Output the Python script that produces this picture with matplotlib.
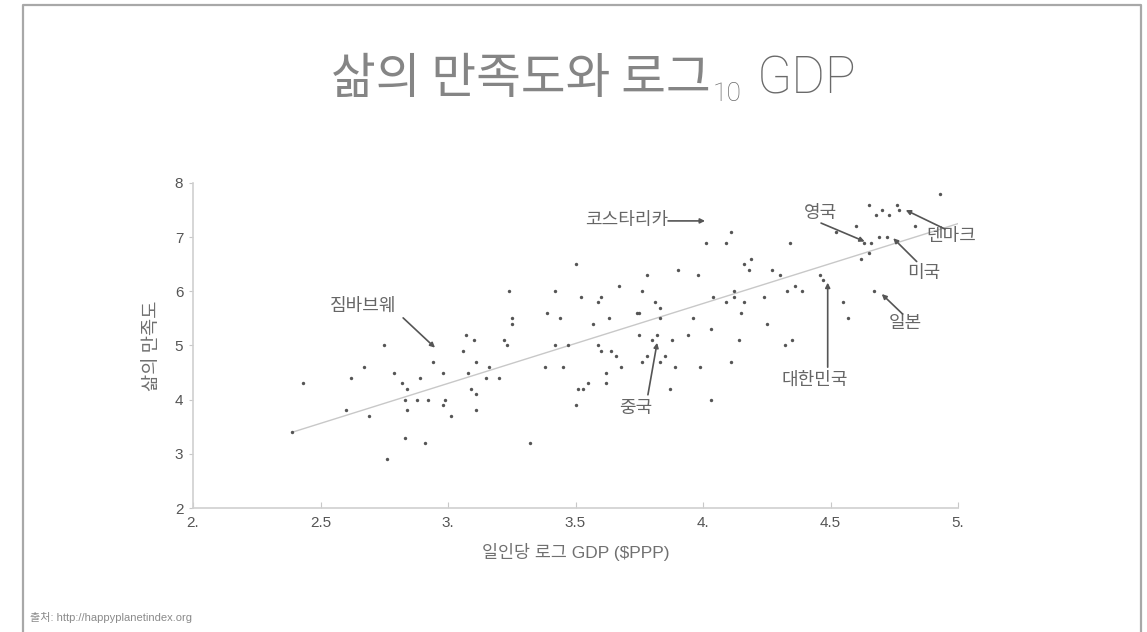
import matplotlib
matplotlib.use("Agg")
import matplotlib.pyplot as plt
from matplotlib.lines import Line2D

# log10 GDP per capita ($PPP) and life satisfaction
gdp_log = [2.39, 2.43, 2.60, 2.62, 2.67, 2.69, 2.75, 2.76, 2.79, 2.82, 2.84, 2.83, 2.83, 2.84,
           2.88, 2.89, 2.91, 2.92, 2.94, 2.98, 2.98, 2.99, 3.01, 3.06, 3.07, 3.08, 3.09, 3.10,
           3.11, 3.11, 3.11, 3.15, 3.16, 3.20, 3.22, 3.23, 3.24, 3.25, 3.25, 3.32, 3.38, 3.39,
           3.42, 3.42, 3.44, 3.45, 3.47, 3.50, 3.50, 3.51, 3.53, 3.52, 3.55, 3.57, 3.59, 3.59,
           3.60, 3.60, 3.62, 3.62, 3.63, 3.64, 3.66, 3.67, 3.68, 3.74, 3.75, 3.75, 3.76, 3.76,
           3.78, 3.78, 3.80, 3.81, 3.82, 3.83, 3.83, 3.83, 3.85, 3.87, 3.88, 3.89, 3.90, 3.94,
           3.96, 3.98, 3.99, 4.01, 4.03, 4.03, 4.04, 4.09, 4.09, 4.11, 4.11, 4.12, 4.12, 4.14,
           4.15, 4.16, 4.16, 4.18, 4.19, 4.24, 4.25, 4.27, 4.30, 4.32, 4.33, 4.34, 4.35, 4.36,
           4.39, 4.46, 4.47, 4.52, 4.55, 4.57, 4.60, 4.62, 4.63, 4.66, 4.65, 4.65, 4.67, 4.68,
           4.69, 4.72, 4.70, 4.73, 4.76, 4.77, 4.83, 4.93]
life_sat = [3.4, 4.3, 3.8, 4.4, 4.6, 3.7, 5.0, 2.9, 4.5, 4.3, 4.2, 3.3, 4.0, 3.8,
            4.0, 4.4, 3.2, 4.0, 4.7, 3.9, 4.5, 4.0, 3.7, 4.9, 5.2, 4.5, 4.2, 5.1,
            4.7, 4.1, 3.8, 4.4, 4.6, 4.4, 5.1, 5.0, 6.0, 5.5, 5.4, 3.2, 4.6, 5.6,
            5.0, 6.0, 5.5, 4.6, 5.0, 6.5, 3.9, 4.2, 4.2, 5.9, 4.3, 5.4, 5.0, 5.8,
            5.9, 4.9, 4.3, 4.5, 5.5, 4.9, 4.8, 6.1, 4.6, 5.6, 5.6, 5.2, 4.7, 6.0,
            6.3, 4.8, 5.1, 5.8, 5.2, 4.7, 5.7, 5.5, 4.8, 4.2, 5.1, 4.6, 6.4, 5.2,
            5.5, 6.3, 4.6, 6.9, 5.3, 4.0, 5.9, 6.9, 5.8, 7.1, 4.7, 6.0, 5.9, 5.1,
            5.6, 5.8, 6.5, 6.4, 6.6, 5.9, 5.4, 6.4, 6.3, 5.0, 6.0, 6.9, 5.1, 6.1,
            6.0, 6.3, 6.2, 7.1, 5.8, 5.5, 7.2, 6.6, 6.9, 6.9, 6.7, 7.6, 6.0, 7.4,
            7.0, 7.0, 7.5, 7.4, 7.6, 7.5, 7.2, 7.8]

# trend line end points
trend_x = [2.39, 5.0]
trend_y = [3.4, 7.25]

x_ticks = [2.0, 2.5, 3.0, 3.5, 4.0, 4.5, 5.0]
x_tick_labels = ["2.", "2.5", "3.", "3.5", "4.", "4.5", "5."]
y_ticks = [2, 3, 4, 5, 6, 7, 8]

# country call-outs: label, text position, arrow start, arrow tip
labels = ["짐바브웨", "코스타리카", "중국", "영국", "덴마크", "미국", "일본", "대한민국"]
label_x = [2.667, 3.70, 3.737, 4.459, 4.973, 4.867, 4.792, 4.439]
label_y = [5.73, 7.31, 3.85, 7.45, 7.02, 6.34, 5.42, 4.37]
arrow_x0 = [2.824, 3.863, 3.784, 4.463, 4.949, 4.838, 4.783, 4.489]
arrow_y0 = [5.51, 7.30, 4.09, 7.26, 7.15, 6.55, 5.58, 4.60]
arrow_x1 = [2.949, 4.008, 3.820, 4.634, 4.795, 4.746, 4.701, 4.489]
arrow_y1 = [4.96, 7.30, 5.05, 6.92, 7.50, 6.98, 5.95, 6.16]

KR = ["Noto Sans CJK KR", "DejaVu Sans"]
MIX = ["Liberation Sans", "Noto Sans CJK KR", "DejaVu Sans"]
LAT = ["Liberation Sans", "DejaVu Sans"]
THIN = ["Roboto", "Liberation Sans", "DejaVu Sans"]
W, H = 1147, 632

fig = plt.figure(figsize=(W / 100, H / 100), dpi=100)
ax = fig.add_axes([193 / W, 1 - 508 / H, (958 - 193) / W, (508 - 183) / H])

ax.plot(trend_x, trend_y, color="#c8c8c8", lw=1.0, zorder=1)
ax.scatter(gdp_log, life_sat, s=6, color="#555555", linewidths=0, zorder=2)

ax.set_xlim(2, 5)
ax.set_ylim(2, 8)
ax.set_xticks(x_ticks)
ax.set_xticklabels(x_tick_labels, family=LAT, fontsize=11, color="#555555")
ax.set_yticks(y_ticks)
ax.set_yticklabels([str(v) for v in y_ticks], family=LAT, fontsize=11, color="#555555")
for s in ["top", "right"]:
    ax.spines[s].set_visible(False)
for s in ["left", "bottom"]:
    ax.spines[s].set_color("#d0d0d0")
    ax.spines[s].set_linewidth(1.2)
ax.tick_params(axis="x", direction="in", length=4, color="#c8c8c8", pad=6)
ax.tick_params(axis="y", direction="out", length=3, color="#c8c8c8", pad=4)

ax.set_xlabel("일인당 로그 GDP ($PPP)", family=MIX, fontsize=12.5, color="#707070", labelpad=9)
ax.set_ylabel("삶의 만족도", family=KR, fontsize=13.5, color="#707070", labelpad=9)

for i, name in enumerate(labels):
    ax.text(label_x[i], label_y[i], name, family=KR, fontsize=13, color="#666666",
            ha="center", va="center")
    ax.annotate("", xy=(arrow_x1[i], arrow_y1[i]), xytext=(arrow_x0[i], arrow_y0[i]),
                arrowprops=dict(arrowstyle="-|>", color="#555555", lw=1.2,
                                shrinkA=0, shrinkB=0, mutation_scale=7))

# title with subscript, built piece by piece
fig.text(711 / W, 1 - 93 / H, "삶의 만족도와 로그", family=KR, fontsize=35,
         color="#858585", va="baseline", ha="right")
fig.text(713 / W, 1 - 101 / H, "10", family=THIN, fontsize=19, fontweight="light",
         color="#6a6a6a", va="baseline", ha="left")
fig.text(757 / W, 1 - 93 / H, "GDP", family=THIN, fontsize=37, fontweight="light",
         color="#6a6a6a", va="baseline", ha="left")

fig.text(30 / W, 1 - 621 / H, "출처: http://happyplanetindex.org", family=MIX,
         fontsize=8, color="#8a8a8a", va="baseline", ha="left")

# slide frame
fx = [22.5 / W, 22.5 / W, 1141 / W, 1141 / W]
fy = [0, 1 - 4.5 / H, 1 - 4.5 / H, 0]
fig.add_artist(Line2D(fx, fy, transform=fig.transFigure, color="#a8a8a8", lw=1.6))

fig.savefig("out.png", dpi=100)
